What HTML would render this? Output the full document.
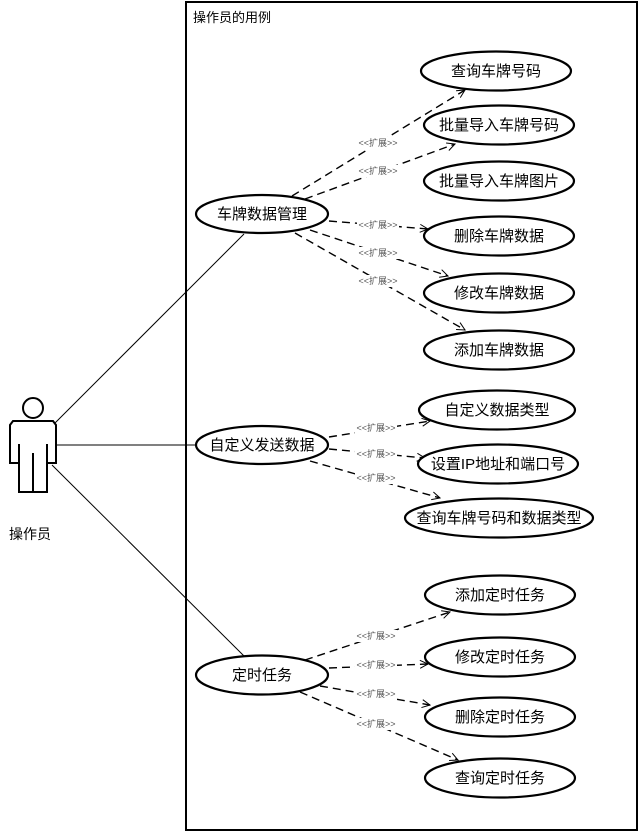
<!DOCTYPE html>
<html><head><meta charset="utf-8"><style>
html,body{margin:0;padding:0;background:#fff}
svg text{font-family:"Liberation Sans","Noto Sans CJK SC",sans-serif}
</style></head><body>
<svg width="642" height="834" viewBox="0 0 642 834" xmlns="http://www.w3.org/2000/svg">
<defs>
<marker id="a" markerWidth="10" markerHeight="10" refX="9" refY="5" orient="auto" markerUnits="userSpaceOnUse">
<path d="M1,1 L9,5 L1,9" fill="none" stroke="#000" stroke-width="1"/>
</marker>
</defs>
<rect x="0" y="0" width="642" height="834" fill="#fff"/>
<rect x="186" y="2" width="451" height="828" fill="none" stroke="#000" stroke-width="2"/>
<text x="193" y="22" font-size="13">操作员的用例</text>

<circle cx="33" cy="408" r="10" fill="none" stroke="#000" stroke-width="2"/>
<path d="M13,421 L53,421 L56,425 L56,463 L47,463 L47,492 L19,492 L19,463 L10,463 L10,425 Z M19,444 L19,463 M47,444 L47,463 M33,453 L33,492" fill="none" stroke="#000" stroke-width="2"/>
<text x="9" y="539" font-size="14">操作员</text>

<g stroke="#000" stroke-width="1" fill="none">
<line x1="55" y1="423" x2="244" y2="234"/>
<line x1="56" y1="445" x2="196" y2="445"/>
<line x1="52" y1="465" x2="244" y2="656"/>
</g>

<g stroke="#000" stroke-width="1.4" fill="none" stroke-dasharray="8,5" marker-end="url(#a)">
<line x1="292" y1="196" x2="465" y2="90"/>
<line x1="305" y1="199" x2="455" y2="144"/>
<line x1="329" y1="221" x2="428" y2="229"/>
<line x1="310" y1="230" x2="448" y2="276"/>
<line x1="295" y1="233" x2="465" y2="330"/>
<line x1="329" y1="437" x2="430" y2="421"/>
<line x1="329" y1="449" x2="425" y2="458"/>
<line x1="310" y1="461" x2="440" y2="498"/>
<line x1="305" y1="660" x2="450" y2="612"/>
<line x1="329" y1="668" x2="428" y2="664"/>
<line x1="320" y1="686" x2="430" y2="705"/>
<line x1="300" y1="692" x2="458" y2="760"/>
</g>

<g fill="#fff">
<rect x="357" y="137" width="42" height="12"/>
<rect x="357" y="165" width="42" height="12"/>
<rect x="357" y="219" width="42" height="12"/>
<rect x="357" y="247" width="42" height="12"/>
<rect x="357" y="275" width="42" height="12"/>
<rect x="355" y="422" width="42" height="12"/>
<rect x="355" y="448" width="42" height="12"/>
<rect x="355" y="472" width="42" height="12"/>
<rect x="355" y="630" width="42" height="12"/>
<rect x="355" y="659" width="42" height="12"/>
<rect x="355" y="688" width="42" height="12"/>
<rect x="355" y="718" width="42" height="12"/>
</g>
<g font-size="9" fill="#555" text-anchor="middle">
<text x="378" y="146">&lt;&lt;扩展&gt;&gt;</text>
<text x="378" y="174">&lt;&lt;扩展&gt;&gt;</text>
<text x="378" y="228">&lt;&lt;扩展&gt;&gt;</text>
<text x="378" y="256">&lt;&lt;扩展&gt;&gt;</text>
<text x="378" y="284">&lt;&lt;扩展&gt;&gt;</text>
<text x="376" y="431">&lt;&lt;扩展&gt;&gt;</text>
<text x="376" y="457">&lt;&lt;扩展&gt;&gt;</text>
<text x="376" y="481">&lt;&lt;扩展&gt;&gt;</text>
<text x="376" y="639">&lt;&lt;扩展&gt;&gt;</text>
<text x="376" y="668">&lt;&lt;扩展&gt;&gt;</text>
<text x="376" y="697">&lt;&lt;扩展&gt;&gt;</text>
<text x="376" y="727">&lt;&lt;扩展&gt;&gt;</text>
</g>

<g fill="#fff" stroke="#000" stroke-width="2.2">
<ellipse cx="262" cy="214" rx="66" ry="19"/>
<ellipse cx="496" cy="71" rx="75" ry="19.5"/>
<ellipse cx="499" cy="125" rx="75" ry="19.5"/>
<ellipse cx="499" cy="181" rx="75" ry="19.5"/>
<ellipse cx="499" cy="236" rx="75" ry="19.5"/>
<ellipse cx="499" cy="293" rx="75" ry="19.5"/>
<ellipse cx="499" cy="350" rx="75" ry="19.5"/>
<ellipse cx="262" cy="445" rx="66" ry="19"/>
<ellipse cx="497" cy="410" rx="78" ry="19.5"/>
<ellipse cx="498" cy="464" rx="80" ry="19.5"/>
<ellipse cx="499" cy="518" rx="94" ry="19.5"/>
<ellipse cx="262" cy="675" rx="66" ry="19.5"/>
<ellipse cx="500" cy="595" rx="75" ry="19.5"/>
<ellipse cx="500" cy="657" rx="75" ry="19.5"/>
<ellipse cx="500" cy="717" rx="75" ry="19.5"/>
<ellipse cx="500" cy="778" rx="75" ry="19.5"/>
</g>

<g font-size="15" text-anchor="middle" fill="#000">
<text x="262" y="219">车牌数据管理</text>
<text x="496" y="76">查询车牌号码</text>
<text x="499" y="130">批量导入车牌号码</text>
<text x="499" y="186">批量导入车牌图片</text>
<text x="499" y="241">删除车牌数据</text>
<text x="499" y="298">修改车牌数据</text>
<text x="499" y="355">添加车牌数据</text>
<text x="262" y="450">自定义发送数据</text>
<text x="497" y="415">自定义数据类型</text>
<text x="498" y="469">设置IP地址和端口号</text>
<text x="499" y="523">查询车牌号码和数据类型</text>
<text x="262" y="680">定时任务</text>
<text x="500" y="600">添加定时任务</text>
<text x="500" y="662">修改定时任务</text>
<text x="500" y="722">删除定时任务</text>
<text x="500" y="783">查询定时任务</text>
</g>
</svg>
</body></html>
